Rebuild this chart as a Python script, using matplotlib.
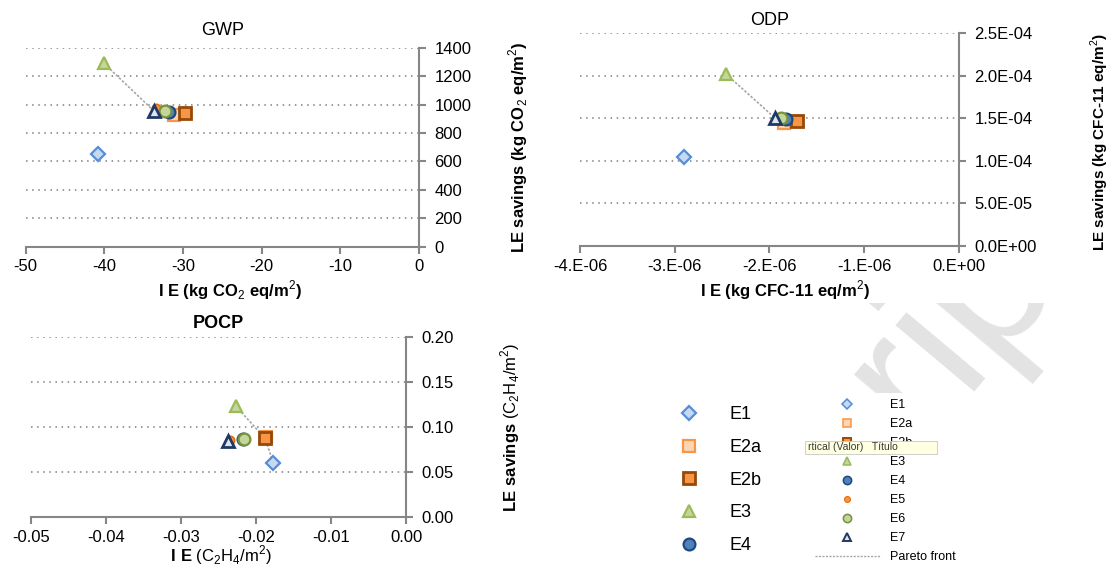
import matplotlib
matplotlib.use("Agg")
import matplotlib.pyplot as plt
from matplotlib.lines import Line2D
from matplotlib.patches import Rectangle
from matplotlib.ticker import FuncFormatter, MultipleLocator

plt.rcParams["font.family"] = ["Liberation Sans", "DejaVu Sans"]
plt.rcParams["mathtext.fontset"] = "custom"
plt.rcParams["mathtext.rm"] = "Liberation Sans"
plt.rcParams["mathtext.bf"] = "Liberation Sans:bold"
plt.rcParams["axes.unicode_minus"] = False

# Data
labels = ["E1", "E2a", "E2b", "E3", "E4", "E5", "E6", "E7"]

gwp_ie = [-40.85, -31.2, -29.8, -40.05, -31.8, -33.4, -32.3, -33.7]
gwp_le = [654, 926, 938, 1290, 950, 973, 955, 955]
gwp_pareto = ["E3", "E7"]

odp_ie = [-2.90e-6, -1.85e-6, -1.71e-6, -2.46e-6, -1.83e-6, -1.90e-6, -1.88e-6, -1.94e-6]
odp_le = [1.04e-4, 1.447e-4, 1.47e-4, 2.02e-4, 1.49e-4, 1.51e-4, 1.50e-4, 1.50e-4]
odp_pareto = ["E3", "E7"]

pocp_ie = [-0.0177, -0.0187, -0.0188, -0.0227, -0.0217, -0.0235, -0.0216, -0.0238]
pocp_le = [0.0605, 0.0885, 0.0875, 0.1232, 0.087, 0.086, 0.087, 0.0848]
pocp_pareto = ["E3", "E2b", "E1"]

# marker styles per scenario
styles = {
    "E1": dict(marker="D", ms=7, mfc="#c6d9f1", mec="#558ed5", mew=1.6),
    "E2a": dict(marker="s", ms=8.5, mfc="#fcd5b5", mec="#f79646", mew=1.6),
    "E2b": dict(marker="s", ms=8.5, mfc="#f79646", mec="#984807", mew=2.0),
    "E3": dict(marker="^", ms=8.5, mfc="#c3d69b", mec="#9bbb59", mew=1.6),
    "E4": dict(marker="o", ms=8.5, mfc="#4f81bd", mec="#1f497d", mew=1.6),
    "E5": dict(marker="o", ms=6, mfc="#f79646", mec="#e46c0a", mew=1.2),
    "E6": dict(marker="o", ms=8.5, mfc="#c3d69b", mec="#77933c", mew=1.6),
    "E7": dict(marker="^", ms=8.5, mfc="#dbe5f1", mec="#1f3864", mew=2.0),
}
SPINE = "#868686"
PARETO = "#a6a6a6"


def style_axes(ax):
    for side in ["top", "left"]:
        ax.spines[side].set_visible(False)
    for side in ["bottom", "right"]:
        ax.spines[side].set_color(SPINE)
        ax.spines[side].set_linewidth(1.5)
    ax.yaxis.tick_right()
    ax.yaxis.set_label_position("right")
    ax.tick_params(axis="both", direction="out", length=5, width=1.5,
                   color=SPINE, labelsize=12, pad=4)
    ax.tick_params(axis="y", pad=6)
    ax.grid(axis="y", linestyle=(0, (1, 3)), color="#7f7f7f", linewidth=1.1)
    ax.set_axisbelow(True)


def scatter_panel(ax, ie, le, pareto):
    idx = [labels.index(p) for p in pareto]
    ax.plot([ie[i] for i in idx], [le[i] for i in idx], linestyle=(0, (1.5, 1)),
            color=PARETO, linewidth=1.2, zorder=2)
    for i, lab in enumerate(labels):
        ax.plot([ie[i]], [le[i]], linestyle="none", zorder=3, **styles[lab])


fig = plt.figure(figsize=(11.07, 5.65), dpi=100)

# GWP
ax1 = fig.add_axes([0.0232, 0.5634, 0.3553, 0.3522])
style_axes(ax1)
scatter_panel(ax1, gwp_ie, gwp_le, gwp_pareto)
ax1.set_xlim(-50, 0)
ax1.set_ylim(0, 1400)
ax1.xaxis.set_major_locator(MultipleLocator(10))
ax1.yaxis.set_major_locator(MultipleLocator(200))
ax1.set_title("GWP", fontsize=13, y=1.02)
ax1.set_xlabel(r"I E (kg CO$_2$ eq/m$^2$)", fontsize=12, fontweight="bold")
ax1.set_ylabel(r"LE savings (kg CO$_2$ eq/m$^2$)", fontsize=12, fontweight="bold")
ax1.xaxis.set_label_coords(0.52, -0.16)
ax1.yaxis.set_label_coords(1.222, 0.5)

# ODP
ax2 = fig.add_axes([0.5239, 0.5646, 0.3424, 0.377])
style_axes(ax2)
scatter_panel(ax2, odp_ie, odp_le, odp_pareto)
ax2.set_xlim(-4e-6, 0)
ax2.set_ylim(0, 2.5e-4)
ax2.xaxis.set_major_locator(MultipleLocator(1e-6))
ax2.yaxis.set_major_locator(MultipleLocator(5e-5))
ax2.xaxis.set_major_formatter(FuncFormatter(lambda v, p: "%#.0E" % (0 if abs(v) < 1e-12 else v)))
ax2.yaxis.set_major_formatter(FuncFormatter(lambda v, p: "%.1E" % (0 if abs(v) < 1e-12 else v)))
ax2.set_title("ODP", fontsize=13, y=1.0)
ax2.set_xlabel(r"I E (kg CFC-11 eq/m$^2$)", fontsize=12, fontweight="bold")
ax2.set_ylabel(r"LE savings (kg CFC-11 eq/m$^2$)", fontsize=11, fontweight="bold")
ax2.xaxis.set_label_coords(0.54, -0.153)
ax2.yaxis.set_label_coords(1.342, 0.49)

# POCP
ax3 = fig.add_axes([0.028, 0.0844, 0.3388, 0.3196])
style_axes(ax3)
scatter_panel(ax3, pocp_ie, pocp_le, pocp_pareto)
ax3.set_xlim(-0.05, 0)
ax3.set_ylim(0, 0.2)
ax3.xaxis.set_major_locator(MultipleLocator(0.01))
ax3.yaxis.set_major_locator(MultipleLocator(0.05))
ax3.xaxis.set_major_formatter(FuncFormatter(lambda v, p: "%.2f" % (0 if abs(v) < 1e-9 else v)))
ax3.yaxis.set_major_formatter(FuncFormatter(lambda v, p: "%.2f" % v))
ax3.set_title("POCP", fontsize=13, fontweight="bold", y=1.0)
ax3.set_xlabel(r"$\mathbf{I\ E}$ (C$_2$H$_4$/m$^2$)", fontsize=12)
ax3.set_ylabel(r"$\mathbf{LE\ savings}$ (C$_2$H$_4$/m$^2$)", fontsize=12)
ax3.xaxis.set_label_coords(0.505, -0.145)
ax3.yaxis.set_label_coords(1.245, 0.5)

# big legend (first five scenarios)
big = [Line2D([], [], linestyle="none", **styles[l]) for l in labels[:5]]
fig.legend(big, labels[:5], loc="upper left", bbox_to_anchor=(0.614, 0.281),
           frameon=False, fontsize=13, labelspacing=0.87, handlelength=1.0,
           handletextpad=1.75, borderpad=0, borderaxespad=0)

# small legend (all scenarios + pareto front)
small_st = {k: dict(v, ms=v["ms"] * 0.7, mew=v["mew"] * 0.7) for k, v in styles.items()}
small = [Line2D([], [], linestyle="none", **small_st[l]) for l in labels]
small.append(Line2D([], [], linestyle=(0, (1.5, 1)), color=PARETO, linewidth=1))
fig.legend(small, labels + ["Pareto front"], loc="upper left",
           bbox_to_anchor=(0.736, 0.293), frameon=False, fontsize=9,
           labelspacing=0.56, handlelength=5.2, handletextpad=0.8,
           borderpad=0, borderaxespad=0)

# tooltip left over in the screenshot
tip = Rectangle((805 / 1107, 1 - 454 / 565), 132 / 1107, 13 / 565,
                transform=fig.transFigure, facecolor="#ffffe1",
                edgecolor="#c8c8c8", linewidth=0.6, zorder=10)
fig.patches.append(tip)
fig.text(808 / 1107, 1 - 447.5 / 565, "rtical (Valor)   Título", fontsize=7.5,
         color="#3a3a3a", va="center", ha="left", zorder=11)

# faint watermark visible between the panels
clip = Rectangle((780 / 1107, 1 - 393 / 565), 327 / 1107, 90 / 565,
                 transform=fig.transFigure, facecolor="none", edgecolor="none")
fig.patches.append(clip)
wm = fig.text(940 / 1107, 1 - 345 / 565, "cript", fontsize=140, color="#e3e3e3",
              rotation=50, ha="center", va="center", zorder=0)
wm.set_clip_path(clip)

fig.savefig("out.png", dpi=100)
